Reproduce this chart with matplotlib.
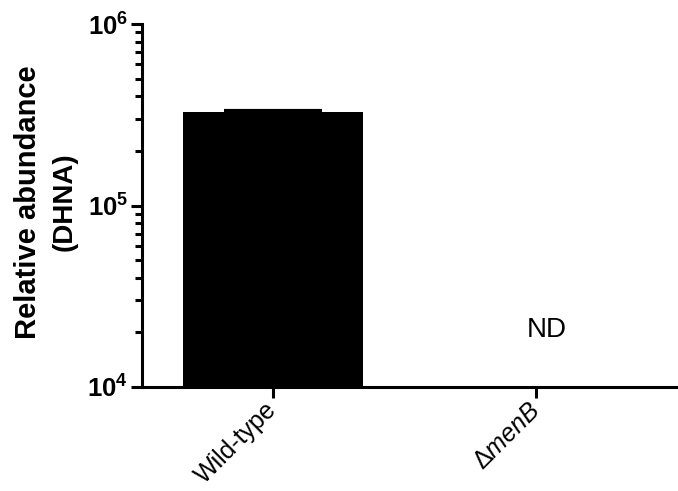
import matplotlib
matplotlib.use("Agg")
import matplotlib.pyplot as plt
import numpy as np
from matplotlib.ticker import LogLocator, FixedLocator, NullFormatter

plt.rcParams['font.family'] = ['Liberation Sans', 'DejaVu Sans']
plt.rcParams['mathtext.fontset'] = 'custom'
plt.rcParams['mathtext.rm'] = 'Liberation Sans'
plt.rcParams['mathtext.it'] = 'Liberation Sans:italic'
plt.rcParams['mathtext.bf'] = 'Liberation Sans:bold'

# data
strains = ['Wild-type', r'$\mathrm{\Delta}\mathit{menB}$']
abundance = [3.28e5, np.nan]      # menB not detected
err_up = [5e3, np.nan]
nd_label = 'ND'

fig = plt.figure(figsize=(6.78, 4.91), dpi=100)
ax = fig.add_axes([142/678, 104/491, 1 - 142/678, 363/491])

x = np.arange(len(strains))
ax.bar(x, abundance, width=0.684, color='black', bottom=1e-10)
ax.errorbar(x, abundance, yerr=[np.zeros(len(x)), err_up], fmt='none',
            ecolor='black', elinewidth=2.5, capsize=35, capthick=3)
ax.text(1.04, 2.05e4, nd_label, ha='center', va='center', fontsize=20)

ax.set_yscale('log')
ax.set_ylim(1e4, 1e6)
ax.set_xlim(-0.498, 1.54)

ax.yaxis.set_major_locator(FixedLocator([1e4, 1e5, 1e6]))
ax.set_yticklabels([r'$\mathbf{10^{4}}$', r'$\mathbf{10^{5}}$', r'$\mathbf{10^{6}}$'],
                   fontsize=18.5)
ax.yaxis.set_minor_locator(LogLocator(base=10, subs=np.arange(2, 10)))
ax.yaxis.set_minor_formatter(NullFormatter())

ax.set_xticks(x)
ax.set_xticklabels(strains, rotation=45, ha='right', va='center',
                   rotation_mode='anchor', fontsize=18)

for s in ['top', 'right']:
    ax.spines[s].set_visible(False)
for s in ['left', 'bottom']:
    ax.spines[s].set_linewidth(2.2)

ax.tick_params(axis='y', which='major', length=8, width=2.2, pad=2)
ax.tick_params(axis='y', which='minor', length=5, width=2.2)
ax.tick_params(axis='x', which='major', length=8, width=2.2, pad=6)

# y label written as plain text so the two lines can be placed like the original
fig.text(28/678, 1 - 202/491, 'Relative abundance', rotation=90, fontsize=21,
         fontweight='bold', ha='center', va='center')
fig.text(65/678, 1 - 202/491, '(DHNA)', rotation=90, fontsize=20,
         fontweight='bold', ha='center', va='center')

fig.savefig('out.png', dpi=100)
